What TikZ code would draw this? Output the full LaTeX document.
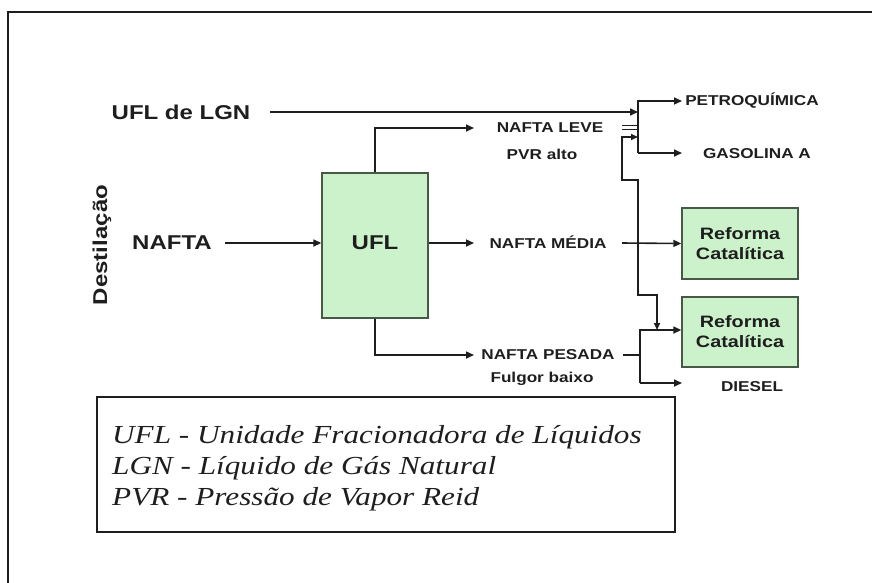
\documentclass[tikz,border=0pt]{standalone}
\usepackage{fontspec}
\setmainfont{Liberation Sans}[FakeStretch=1.2]
\newfontfamily\legfont{Liberation Serif}[FakeStretch=1.2]
\usetikzlibrary{arrows.meta}
\definecolor{boxgreen}{RGB}{204,242,204}
\definecolor{boxedge}{RGB}{70,90,70}
\definecolor{ink}{RGB}{30,30,30}
\tikzset{
  lbl/.style={font=\bfseries\fontsize{14.3}{16}\selectfont, text=ink, inner sep=0pt},
  biglbl/.style={font=\bfseries\fontsize{20}{23}\selectfont, text=ink, inner sep=0pt},
  reflbl/.style={font=\bfseries\fontsize{16.5}{20}\selectfont, text=ink, inner sep=0pt, align=center},
  procbox/.style={draw=boxedge, line width=1.4pt, fill=boxgreen, inner sep=0pt},
  conn/.style={draw=ink, line width=1.6pt},
  arr/.style={conn, -{Triangle[length=8pt,width=7pt]}},
  dblarr/.style={conn, {Triangle[length=7pt,width=6pt]}-{Triangle[length=7pt,width=6pt]}},
  legtext/.style={font=\legfont\itshape\fontsize{26}{30}\selectfont, text=ink, inner sep=0pt, anchor=west},
}
\begin{document}
\begin{tikzpicture}[x=1pt,y=-1pt]
\useasboundingbox (0,0) rectangle (872,582);
% outer frame
\draw[line width=2pt, ink] (8,600) -- (8,12) -- (890,12);

% nodes
\node[biglbl] (lgn) at (181,112) {UFL de LGN};
\node[biglbl] (nafta) at (172,243) {NAFTA};
\node[biglbl, rotate=90] (dest) at (102,245) {Destilação};
\node[procbox, minimum width=106pt, minimum height=145pt] (ufl) at (375,245.5) {};
\node[biglbl] (ufltxt) at (375,243) {UFL};

\node[lbl] (leve) at (550,128) {NAFTA LEVE};
\node[lbl] (pvr) at (542,154) {PVR alto};
\node[lbl] (media) at (548,242) {NAFTA MÉDIA};
\node[lbl] (pesada) at (548,355) {NAFTA PESADA};
\node[lbl] (fulgor) at (542,379) {Fulgor baixo};
\node[lbl] (petro) at (752,101) {PETROQUÍMICA};
\node[lbl] (gas) at (757,154) {GASOLINA A};
\node[lbl] (diesel) at (752,387) {DIESEL};

\node[procbox, minimum width=116pt, minimum height=71pt] (ref1) at (740,243.5) {};
\node[reflbl] (ref1txt) at (740,243.5) {Reforma\\Catalítica};
\node[procbox, minimum width=116pt, minimum height=70pt] (ref2) at (740,332) {};
\node[reflbl] (ref2txt) at (740,332) {Reforma\\Catalítica};

% junction coordinates
\coordinate (lgnstart) at (270,112);
\coordinate (jtop) at (638,101);
\coordinate (jbot) at (638,153);
\coordinate (petroin) at (682,101);
\coordinate (gasin) at (682,153);
\coordinate (leveout) at (474,128);
\coordinate (mediaout) at (474,243);
\coordinate (pesadaout) at (474,355);
\coordinate (naftaout) at (225,243);
\coordinate (ptop) at (640,330);
\coordinate (pbot) at (640,383);
\coordinate (dieselin) at (682,383);

% UFL de LGN feed
\draw[arr] (lgnstart) -- (jtop |- lgnstart);
% split to petroquimica / gasolina
\draw[arr] (jbot) -- (jtop) -- (petroin);
\draw[arr] (jbot) -- (gasin);
% nafta leve into split
\draw[conn] (622,125.5) -- (638,125.5);
\draw[conn] (622,129.5) -- (638,129.5);
% loop from nafta leve split to reforma 2
\draw[dblarr] (638,137) -- (622,137) -- (622,180) -- (638,180) -- (638,295) -- (657,295) -- (657,330);

% nafta media
\draw[arr] (622,243) -- (ref1.west);
% nafta pesada
\draw[conn] (623,355) -- (640,355);
\draw[arr] (pbot) -- (ptop) -- (ref2.west |- ptop);
\draw[arr] (pbot) -- (dieselin);

% UFL outputs
\draw[arr] (ufl.north) -- (ufl.north |- leveout) -- (leveout);
\draw[arr] (ufl.east |- mediaout) -- (mediaout);
\draw[arr] (ufl.south) -- (ufl.south |- pesadaout) -- (pesadaout);
% nafta feed
\draw[arr] (naftaout) -- (ufl.west |- naftaout);

% legend
\node[draw=ink, line width=1.4pt, minimum width=578pt, minimum height=135pt, inner sep=0pt] (leg) at (386,464.5) {};
\node[legtext] (l1) at (112,437) {UFL - Unidade Fracionadora de Líquidos};
\node[legtext] (l2) at (112,468) {LGN - Líquido de Gás Natural};
\node[legtext] (l3) at (112,499) {PVR - Pressão de Vapor Reid};
\end{tikzpicture}
\end{document}
